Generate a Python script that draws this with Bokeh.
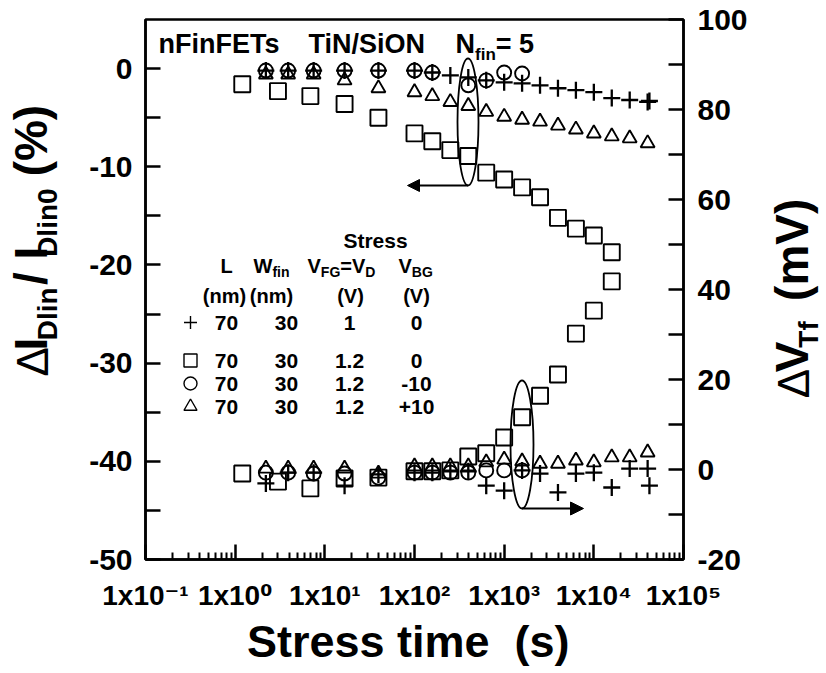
import math
from bokeh.plotting import figure
from bokeh.layouts import row
from bokeh.models import (Range1d, LinearAxis, FixedTicker, Arrow,
                          NormalHead, CustomJSTickFormatter)
from bokeh.core.properties import value
from bokeh.embed import file_html
from bokeh.resources import INLINE

# ---------------- data ----------------
# squares: L=70, Wfin=30, VFG=VD=1.2 V, VBG=0 V
t_sq = [1.2, 3.0, 6.9, 16.6, 39.6, 100, 158, 251, 398, 631, 1000, 1585,
        2512, 3981, 6310, 10000, 15849]
dI_sq = [-1.6, -2.3, -2.8, -3.6, -5.0, -6.6, -7.4, -8.3, -8.9, -10.6, -11.3,
         -12.1, -13.1, -15.2, -16.3, -17.0, -18.7]
dV_sq = [-0.9, -2.7, -4.2, -2.0, -1.8, -0.4, -0.4, -0.2, 2.9, 3.6, 7.1, 11.6,
         16.4, 21.1, 30.2, 35.3, 41.8]

# crosses: VFG=VD=1 V, VBG=0 V
t_cr = [2.2, 3.9, 7.5, 16.6, 39.6, 100, 158, 251, 398, 631, 1000, 1585, 2512,
        3981, 6310, 10000, 15849, 25119, 39811, 41687]
dI_cr = [-0.2, -0.2, -0.2, -0.2, -0.2, -0.2, -0.4, -0.7, -0.9, -1.2, -1.4,
         -1.5, -1.7, -2.0, -2.2, -2.4, -3.0, -3.2, -3.4, -3.3]
dV_cr = [-3.1, -0.7, -0.7, -3.6, -1.1, -0.7, -0.7, -0.4, -0.4, -3.6, -4.7,
         -0.2, -0.9, -5.1, -0.9, -0.7, -4.0, 0.2, 0.2, -3.6]

# circles: VFG=VD=1.2 V, VBG=-10 V
t_ci_I = [2.2, 3.9, 7.5, 16.6, 39.6, 100, 158, 398, 631, 1000, 1585]
dI_ci = [-0.2, -0.2, -0.2, -0.2, -0.2, -0.2, -0.4, -1.7, -1.2, -0.4, -0.5]
t_ci_V = [2.2, 3.9, 7.5, 16.6, 39.6, 100, 158, 251, 398, 631, 1000, 1585]
dV_ci = [-0.7, -0.7, -0.9, -0.9, -1.8, -0.7, -0.7, -0.7, -0.7, -0.2, -0.2, -0.2]

# triangles: VFG=VD=1.2 V, VBG=+10 V
t_tr = [2.2, 3.9, 7.5, 16.6, 39.6, 100, 158, 251, 398, 631, 1000, 1585, 2512,
        3981, 6310, 10000, 15849, 25119, 39811]
dI_tr = [-0.6, -0.6, -0.6, -1.2, -2.0, -2.4, -2.8, -3.4, -3.8, -4.4, -4.9,
         -5.2, -5.4, -5.8, -6.2, -6.6, -6.9, -7.1, -7.6]
dV_tr = [0.2, 0.2, 0.2, 0.2, -0.9, 0.7, 0.7, 0.7, 0.7, 1.6, 2.2, 1.8, 1.3,
         1.3, 2.0, 1.6, 2.7, 2.7, 3.8]

# legend table rows
leg_L = ["70", "70", "70", "70"]
leg_W = ["30", "30", "30", "30"]
leg_VFG = ["1", "1.2", "1.2", "1.2"]
leg_VBG = ["0", "0", "-10", "+10"]
leg_markers = ["cross", "square", "circle", "triangle"]

x_major = [0.1, 1, 10, 100, 1000, 10000, 100000]
y_major = [-50, -40, -30, -20, -10, 0]
y_minor = [-45, -35, -25, -15, -5]
v_major = [-20, 0, 20, 40, 60, 80, 100]
v_minor = [-10, 10, 30, 50, 70, 90]

# ---------------- layout ----------------
FONT = "Liberation Sans"
W, H = 826, 673
LW, RW = 70, 70                      # side panels holding the rotated titles
FL, FR, FT, FB = 145, 683, 19, 559   # frame in page pixels
XMIN, XMAX = 0.1, 1e5
YMIN, YMAX = -50.0, 5.0
VMIN, VMAX = -20.0, 100.0
MID = 0.35                           # em-box middle above the baseline

AW = {' ': 278, '\u00a0': 278, '(': 333, ')': 333, '%': 889, '/': 278,
      'I': 278, 'D': 722, 'l': 278, 'i': 278, 'n': 611, '0': 556, '1': 556,
      '5': 556, 'V': 667, 'T': 611, 'f': 333, 'm': 889, 's': 556, '=': 584,
      'F': 611, 'G': 778, 'B': 722, 'W': 944, 'N': 722, 'E': 667, 'S': 667,
      'O': 778, '\u0394': 667, 't': 333, 'r': 389, 'e': 556, 'x': 556}


def tw(s, size):
    return sum(AW.get(c, 556) for c in s) * size / 1000.0


def dx(px):
    a, b = math.log10(XMIN), math.log10(XMAX)
    return 10 ** (a + (px - FL) / (FR - FL) * (b - a))


def dy(py):
    return YMIN + (FB - py) / (FB - FT) * (YMAX - YMIN)


p = figure(width=W - LW - RW, height=H, x_axis_type="log",
           x_range=Range1d(XMIN, XMAX), y_range=Range1d(YMIN, YMAX),
           output_backend="svg", toolbar_location=None,
           min_border_left=FL - LW, min_border_right=W - RW - FR,
           min_border_top=FT, min_border_bottom=H - FB)
p.extra_y_ranges = {"v": Range1d(VMIN, VMAX)}
p.xgrid.visible = False
p.ygrid.visible = False
p.outline_line_color = "black"
p.outline_line_width = 2.5
p.background_fill_color = "white"
p.border_fill_color = "white"


def style_axis(ax, size, standoff, minor_in=15):
    ax.axis_line_width = 2.5
    ax.axis_line_color = "black"
    ax.major_tick_line_width = 2.5
    ax.minor_tick_line_width = 2.5
    ax.major_tick_in = 15
    ax.major_tick_out = 0
    ax.minor_tick_in = minor_in
    ax.minor_tick_out = 0
    ax.major_label_text_font = FONT
    ax.major_label_text_font_style = "bold"
    ax.major_label_text_font_size = size
    ax.major_label_text_color = "black"
    ax.major_label_standoff = standoff


plain = CustomJSTickFormatter(code="return tick.toFixed(0);")

xa = p.xaxis[0]
xa.ticker = FixedTicker(ticks=x_major,
                        minor_ticks=[m * 10 ** e for e in range(-1, 5)
                                     for m in range(2, 10)])
xa.formatter = CustomJSTickFormatter(code="""
const e = Math.round(Math.log10(tick));
const m = {"-": "\u207b", "0": "\u2070", "1": "\u00b9", "2": "\u00b2",
           "3": "\u00b3", "4": "\u2074", "5": "\u2075"};
return "1x10" + String(e).split("").map(c => m[c]).join("");
""")
style_axis(xa, "28px", 20, minor_in=7)
xa.major_label_text_font = FONT + ", DejaVu Sans"
xa.minor_tick_line_width = 2
xa.axis_label = "Stress time\u00a0\u00a0(s)\u00a0"
xa.axis_label_text_font = FONT
xa.axis_label_text_font_style = "bold"
xa.axis_label_text_font_size = "45px"
xa.axis_label_text_color = "black"
xa.axis_label_standoff = 2

ya = p.yaxis[0]
ya.ticker = FixedTicker(ticks=y_major, minor_ticks=y_minor)
ya.formatter = plain
style_axis(ya, "30px", 13)

ra = LinearAxis(y_range_name="v",
                ticker=FixedTicker(ticks=v_major, minor_ticks=v_minor),
                formatter=plain)
style_axis(ra, "30px", 14)
p.add_layout(ra, "right")


# ---------------- data marks ----------------
def pts(x, y, marker, size, lw, rng="default"):
    p.scatter(x, y, marker=marker, size=size, line_color="black",
              line_width=lw, fill_alpha=0, y_range_name=rng)


pts(t_sq, dI_sq, "square", 16, 1.9)
pts(t_sq, dV_sq, "square", 16, 1.9, "v")
pts(t_ci_I, dI_ci, "circle", 14, 1.9)
pts(t_ci_V, dV_ci, "circle", 14, 1.9, "v")
pts(t_tr, dI_tr, "triangle", 14, 1.9)
pts(t_tr, dV_tr, "triangle", 14, 1.9, "v")
pts(t_cr, dI_cr, "cross", 17, 2.3)
pts(t_cr, dV_cr, "cross", 17, 2.3, "v")

# ellipses and arrows marking the two branches
p.ellipse(x=[dx(467.5), dx(521.5)], y=[dy(121.5), dy(444)],
          width=[21, 23], height=[127, 128],
          width_units="screen", height_units="screen",
          fill_alpha=0, line_color="black", line_width=1.8)
p.add_layout(Arrow(end=NormalHead(size=12, fill_color="black",
                                  line_color="black"),
                   x_start=dx(467.5), y_start=dy(185), x_end=dx(407),
                   y_end=dy(185), line_width=2, line_color="black"))
p.add_layout(Arrow(end=NormalHead(size=13, fill_color="black",
                                  line_color="black"),
                   x_start=dx(521.5), y_start=dy(508), x_end=dx(583),
                   y_end=dy(508), line_width=2, line_color="black"))


# ---------------- texts inside the frame ----------------
def htext(px, py, s, size, align="left", style="bold"):
    # py is the baseline in page pixels
    p.text(x=[dx(px)], y=[dy(py - MID * size)], text=[s],
           text_font=value(FONT), text_font_size=f"{size}px",
           text_font_style=style, text_align=align, text_baseline="middle",
           text_color="black")


def hpieces(px, py, pieces):
    for s, size, shift in pieces:
        htext(px, py + shift, s, size)
        px += tw(s, size)


htext(158, 53, "nFinFETs", 27)
htext(308, 53, "TiN/SiON", 27)
hpieces(455, 53, [("N", 27, 0), ("fin", 17, 7), ("=\u00a05", 27, 0)])

FS = 20
SS = 14
htext(375, 247, "Stress", 21, "center")
htext(226, 272, "L", FS, "center")
hpieces(253, 272, [("W", FS, 0), ("fin", SS, 4)])
hpieces(307, 272, [("V", FS, 0), ("FG", SS, 4), ("=V", FS, 0), ("D", SS, 4)])
hpieces(398, 272, [("V", FS, 0), ("BG", SS, 4)])
htext(224, 302, "(nm)", FS, "center")
htext(271, 302, "(nm)", FS, "center")
htext(350, 302, "(V)", FS, "center")
htext(416, 302, "(V)", FS, "center")
row_y = [322, 360, 383, 406]
for i, ry in enumerate(row_y):
    p.scatter([dx(190)], [dy(ry)], marker=leg_markers[i], size=13,
              line_color="black", line_width=1.4, fill_alpha=0)
    htext(226, ry + 7.5, leg_L[i], 21, "center")
    htext(286, ry + 7.5, leg_W[i], 21, "center")
    htext(349, ry + 7.5, leg_VFG[i], 21, "center")
    htext(416, ry + 7.5, leg_VBG[i], 21, "center")


# ---------------- side panels with the rotated axis titles ----------------
def side_fig(w, x0):
    f = figure(width=w, height=H, x_range=Range1d(x0, x0 + w),
               y_range=Range1d(0, H), output_backend="svg",
               toolbar_location=None, x_axis_location=None,
               y_axis_location=None, min_border=0)
    f.xgrid.visible = False
    f.ygrid.visible = False
    f.outline_line_color = None
    f.background_fill_color = "white"
    f.border_fill_color = "white"
    return f


def vpieces(f, bx, py, pieces):
    # bx: baseline x, py: start (bottom) of the text, page pixels
    for s, size, style, shift, gap in pieces:
        f.text(x=[bx + shift - MID * size], y=[H - py], text=[s],
               angle=math.pi / 2, text_align="left", text_baseline="middle",
               text_font=value(FONT), text_font_size=f"{size}px",
               text_font_style=style, text_color="black")
        py -= tw(s, size) + gap


left = side_fig(LW, 0)
vpieces(left, 47, 445, [
    ("\u0394", 44, "normal", 0, 3),
    ("I", 46, "bold", 0, 0),
    ("Dlin", 28, "bold", 10, 0),
    ("\u00a0/\u00a0I", 46, "bold", 0, 0),
    ("Dlin0", 28, "bold", 10, 0),
    ("\u00a0\u00a0(%)", 46, "bold", 0, 0),
])

right = side_fig(RW, W - RW)
vpieces(right, 808, 472, [
    ("\u0394", 44, "normal", 0, 3),
    ("V", 46, "bold", 0, 0),
    ("Tf", 28, "bold", 10, 0),
    ("\u00a0\u00a0(mV)", 46, "bold", 0, 0),
])

layout = row(left, p, right)
open("out.html", "w").write(file_html(layout, INLINE))
